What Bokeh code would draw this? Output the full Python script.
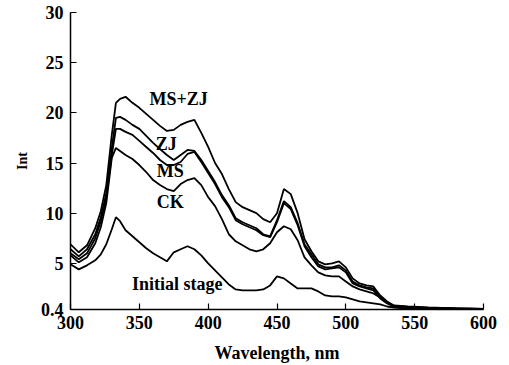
from bokeh.plotting import figure
from bokeh.models import FixedTicker, Label, Range1d
from bokeh.embed import file_html
from bokeh.resources import INLINE

# ---- data ----
wavelength = [300, 306, 312, 318, 322, 326, 330, 333, 336, 340, 345, 350, 355, 360, 365, 370, 375, 380,
              385, 390, 395, 400, 405, 410, 415, 420, 425, 430, 435, 440, 445, 450, 455, 460, 465, 470,
              475, 480, 485, 490, 495, 500, 505, 510, 515, 520, 525, 530, 535, 545, 560, 580, 600]

ms_zj = [6.9, 6.1, 6.8, 8.5, 10.2, 12.8, 17.8, 21.0, 21.4, 21.6, 21.0, 20.5, 19.9, 19.3, 18.7, 18.2, 18.3, 18.8,
         19.1, 19.3, 18.0, 16.6, 15.0, 13.9, 12.4, 11.1, 10.6, 10.3, 10.0, 9.4, 9.1, 10.0, 12.4, 11.9, 10.0, 7.4,
         6.2, 5.2, 4.9, 5.0, 5.2, 4.6, 3.5, 3.0, 2.8, 2.7, 1.8, 1.2, 0.8, 0.7, 0.6, 0.5, 0.45]

zj = [6.4, 5.7, 6.4, 7.9, 9.6, 12.0, 16.5, 19.5, 19.6, 19.3, 18.8, 18.4, 17.7, 17.0, 16.4, 15.8, 15.3, 15.8,
      16.3, 16.2, 15.3, 14.2, 13.1, 11.8, 10.8, 9.5, 9.1, 8.8, 8.5, 7.9, 7.7, 9.3, 11.2, 10.6, 9.0, 6.9,
      5.9, 4.9, 4.6, 4.6, 4.8, 4.3, 3.2, 2.8, 2.6, 2.5, 1.6, 1.1, 0.75, 0.65, 0.55, 0.5, 0.45]

ms = [6.0, 5.4, 6.0, 7.5, 9.2, 11.5, 15.8, 18.4, 18.4, 18.1, 17.8, 17.2, 16.6, 16.0, 15.3, 14.8, 14.8, 15.1,
      15.9, 16.1, 15.1, 14.0, 12.9, 11.6, 10.6, 9.3, 8.9, 8.6, 8.3, 7.8, 7.6, 9.1, 11.0, 10.4, 8.8, 6.7,
      5.6, 4.7, 4.4, 4.5, 4.6, 4.1, 3.0, 2.7, 2.5, 2.3, 1.5, 1.0, 0.7, 0.6, 0.55, 0.5, 0.45]

ck = [5.8, 5.1, 5.6, 7.0, 8.6, 11.0, 15.5, 16.5, 16.2, 15.8, 15.4, 14.8, 14.1, 13.3, 12.8, 12.4, 12.2, 12.9,
      13.3, 13.5, 12.8, 11.6, 10.7, 9.4, 7.9, 7.2, 6.8, 6.4, 6.2, 6.4, 7.0, 8.1, 8.7, 8.4, 7.3, 5.6,
      4.8, 4.1, 3.8, 3.7, 3.7, 3.2, 2.7, 2.4, 2.2, 2.0, 1.6, 1.1, 0.7, 0.6, 0.5, 0.45, 0.45]

initial = [4.9, 4.4, 4.8, 5.3, 5.9, 6.9, 8.4, 9.6, 9.2, 8.3, 7.7, 7.1, 6.5, 6.0, 5.6, 5.2, 6.1, 6.4,
           6.7, 6.4, 5.8, 5.0, 4.3, 3.6, 2.9, 2.4, 2.3, 2.3, 2.3, 2.4, 2.8, 3.7, 3.5, 3.0, 2.5, 2.5,
           2.5, 2.2, 1.8, 1.7, 1.7, 1.6, 1.4, 1.2, 1.1, 1.0, 0.9, 0.7, 0.6, 0.5, 0.45, 0.45, 0.45]

series = [ms_zj, zj, ms, ck, initial]

x_ticks = [300, 350, 400, 450, 500, 550, 600]
y_ticks = [0.4, 5, 10, 15, 20, 25, 30]

label_texts = ["MS+ZJ", "ZJ", "MS", "CK", "Initial stage"]
label_x = [378.5, 369.5, 372.5, 372.5, 377.5]
label_y = [21.4, 16.9, 14.2, 11.1, 2.9]

FONT = "Liberation Serif"

p = figure(width=509, height=365, output_backend="svg", toolbar_location=None,
           x_range=Range1d(300, 600), y_range=Range1d(0.4, 30),
           min_border_left=70, min_border_right=26, min_border_top=12, min_border_bottom=56)
p.outline_line_color = None
p.grid.visible = False
p.background_fill_color = "white"

for s in series:
    p.line(wavelength, s, line_color="black", line_width=1.8)

for ax in (p.xaxis[0], p.yaxis[0]):
    ax.axis_line_width = 1.5
    ax.axis_line_color = "black"
    ax.major_tick_in = 6
    ax.major_tick_out = 0
    ax.minor_tick_in = 0
    ax.minor_tick_out = 0
    ax.major_tick_line_width = 1.2
    ax.major_label_text_font = FONT
    ax.major_label_text_font_style = "bold"
    ax.major_label_text_font_size = "18px"
    ax.major_label_text_color = "black"

p.xaxis.ticker = FixedTicker(ticks=x_ticks)
p.yaxis.ticker = FixedTicker(ticks=y_ticks)
p.yaxis.major_label_overrides = {0.4: "0.4"}
p.xaxis.major_label_standoff = 6
p.yaxis.major_label_standoff = 7

p.xaxis.axis_label = "Wavelength, nm"
p.xaxis.axis_label_text_font = FONT
p.xaxis.axis_label_text_font_style = "bold"
p.xaxis.axis_label_text_font_size = "18px"
p.xaxis.axis_label_text_color = "black"
p.xaxis.axis_label_standoff = 11

p.yaxis.axis_label = "Int"
p.yaxis.axis_label_text_font = FONT
p.yaxis.axis_label_text_font_style = "bold"
p.yaxis.axis_label_text_font_size = "14px"
p.yaxis.axis_label_text_color = "black"
p.yaxis.axis_label_standoff = 8

for t, lx, ly in zip(label_texts, label_x, label_y):
    p.add_layout(Label(x=lx, y=ly, text=t, text_font=FONT, text_font_style="bold",
                       text_font_size="18px", text_align="center", text_baseline="middle",
                       text_color="black"))

open("out.html", "w").write(file_html(p, INLINE))
